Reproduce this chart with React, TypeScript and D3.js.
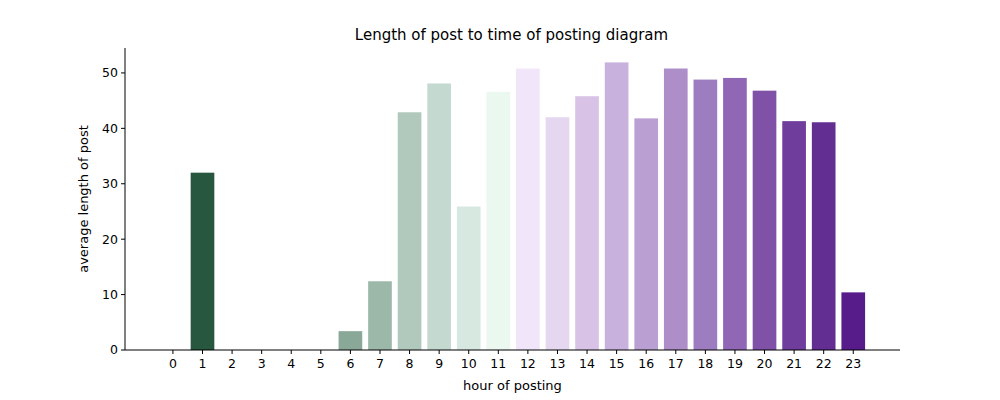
import React from 'react';
import * as d3 from 'd3';

const hours = d3.range(24).map(String);
const avgLength = [0, 32, 0, 0, 0, 0, 3.4, 12.4, 42.9, 48.1, 25.9, 46.6, 50.8, 42, 45.8, 51.9, 41.8, 50.8, 48.8, 49.1, 46.8, 41.3, 41.1, 10.4];
const colors = ['#1f4a35', '#27573f', '#4a7461', '#6a8d7c', '#7a9a8a', '#8aa898', '#8aa898', '#9bb8a9', '#b1c8bd', '#c4dad0', '#d6e8e0', '#eaf8ef',
  '#f1e6f9', '#e4d7ef', '#d8c3e6', '#c8b1dd', '#ba9fd2', '#ad8ec9', '#9d7cbf', '#8f67b4', '#7f52a7', '#6f3d9c', '#632e91', '#571c8a'];
const yTicks = [0, 10, 20, 30, 40, 50];

export default function App() {
  const left = 125, right = 900, top = 48, bottom = 350;
  const x = d3.scaleLinear().domain([-1.62, 24.58]).range([left, right]);
  const y = d3.scaleLinear().domain([0, 54.5]).range([bottom, top]);
  const bw = (x(1) - x(0)) * 0.8;
  const font = 'DejaVu Sans, sans-serif';
  return (
    <svg width={1000} height={400} style={{ position: 'absolute', left: 0, top: 0 }} fontFamily={font}>
      <rect width={1000} height={400} fill="#fff" />
      {avgLength.map((v, i) => (
        <rect key={i} x={x(i) - bw / 2} y={y(v)} width={bw} height={y(0) - y(v)} fill={colors[i]} />
      ))}
      <line x1={left} x2={left} y1={top} y2={bottom} stroke="#000" />
      <line x1={left} x2={right} y1={bottom} y2={bottom} stroke="#000" />
      {yTicks.map(t => (
        <g key={t}>
          <line x1={left - 4} x2={left} y1={y(t)} y2={y(t)} stroke="#000" />
          <text x={left - 7} y={y(t)} dy="0.35em" textAnchor="end" fontSize={12.5}>{t}</text>
        </g>
      ))}
      {hours.map((h, i) => (
        <g key={h}>
          <line x1={x(i)} x2={x(i)} y1={bottom} y2={bottom + 4} stroke="#000" />
          <text x={x(i)} y={bottom + 18} textAnchor="middle" fontSize={12.5}>{h}</text>
        </g>
      ))}
      <text x={(left + right) / 2} y={390} textAnchor="middle" fontSize={13}>hour of posting</text>
      <text transform={`translate(88,${(top + bottom) / 2}) rotate(-90)`} textAnchor="middle" fontSize={13}>average length of post</text>
      <text x={(left + right) / 2 - 1} y={40} textAnchor="middle" fontSize={15}>Length of post to time of posting diagram</text>
    </svg>
  );
}
